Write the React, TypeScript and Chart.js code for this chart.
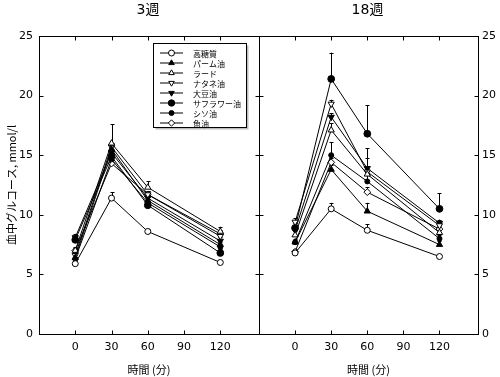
import React, { useEffect, useRef } from 'react';
import { Chart, registerables } from 'chart.js';
Chart.register(...registerables);

// ---- data ----
const sampleTimes = [0, 30, 60, 120];
const xTickValues = [0, 30, 60, 90, 120];
const yTickValues = [0, 5, 10, 15, 20, 25];
const seriesNames = ['高糖質', 'パーム油', 'ラード', 'ナタネ油', '大豆油', 'サフラワー油', 'シソ油', '魚油'];
const panelTitles = ['3週', '18週'];
const xAxisTitle = '時間 (分)';
const yAxisTitle = '血中グルコース, mmol/l';

// 3 weeks
const w3HighCarb = [5.9, 11.4, 8.6, 6.0];
const w3Palm = [6.4, 15.5, 11.2, 7.5];
const w3Lard = [7.0, 16.0, 12.3, 8.6];
const w3Rapeseed = [6.6, 15.7, 11.7, 8.2];
const w3Soybean = [8.1, 15.2, 11.4, 7.8];
const w3Safflower = [7.9, 14.9, 10.8, 6.8];
const w3Perilla = [6.3, 14.65, 11.0, 7.3];
const w3Fish = [7.0, 14.3, 11.7, 8.4];
const w3Values = [w3HighCarb, w3Palm, w3Lard, w3Rapeseed, w3Soybean, w3Safflower, w3Perilla, w3Fish];

const w3HighCarbErr = [0.2, 0.5, 0.2, 0.1];
const w3PalmErr = [0.2, 0.3, 0.3, 0.2];
const w3LardErr = [0.3, 1.6, 0.5, 0.4];
const w3RapeseedErr = [0.2, 0.3, 0.3, 0.3];
const w3SoybeanErr = [0.3, 0.3, 0.3, 0.3];
const w3SafflowerErr = [0.3, 0.3, 0.3, 0.3];
const w3PerillaErr = [0.2, 0.3, 0.3, 0.2];
const w3FishErr = [0.2, 0.3, 0.3, 0.3];
const w3Errors = [w3HighCarbErr, w3PalmErr, w3LardErr, w3RapeseedErr, w3SoybeanErr, w3SafflowerErr, w3PerillaErr, w3FishErr];

// 18 weeks
const w18HighCarb = [6.8, 10.5, 8.7, 6.5];
const w18Palm = [7.7, 13.8, 10.3, 7.5];
const w18Lard = [8.3, 17.1, 13.4, 8.5];
const w18Rapeseed = [9.4, 19.3, 13.6, 9.1];
const w18Soybean = [8.7, 18.2, 13.9, 9.3];
const w18Safflower = [8.9, 21.4, 16.8, 10.5];
const w18Perilla = [7.7, 15.0, 12.8, 8.0];
const w18Fish = [6.9, 14.4, 11.9, 8.8];
const w18Values = [w18HighCarb, w18Palm, w18Lard, w18Rapeseed, w18Soybean, w18Safflower, w18Perilla, w18Fish];

const w18HighCarbErr = [0.2, 0.5, 0.5, 0.2];
const w18PalmErr = [0.2, 0.4, 0.7, 0.3];
const w18LardErr = [0.3, 0.6, 1.4, 0.3];
const w18RapeseedErr = [0.3, 0.35, 0.5, 0.3];
const w18SoybeanErr = [0.3, 0.3, 1.7, 0.3];
const w18SafflowerErr = [0.4, 2.2, 2.4, 1.3];
const w18PerillaErr = [0.3, 1.1, 0.6, 0.3];
const w18FishErr = [0.2, 0.4, 0.4, 0.3];
const w18Errors = [w18HighCarbErr, w18PalmErr, w18LardErr, w18RapeseedErr, w18SoybeanErr, w18SafflowerErr, w18PerillaErr, w18FishErr];

// ---- styles ----
type MarkStyle = { shape: string; fill: string; r: number; rot: number };
const markStyles: MarkStyle[] = [
  { shape: 'circle', fill: '#fff', r: 3, rot: 0 },
  { shape: 'triangle', fill: '#000', r: 3.6, rot: 0 },
  { shape: 'triangle', fill: '#fff', r: 3.6, rot: 0 },
  { shape: 'triangle', fill: '#fff', r: 3.6, rot: 180 },
  { shape: 'triangle', fill: '#000', r: 3.6, rot: 180 },
  { shape: 'circle', fill: '#000', r: 3.4, rot: 0 },
  { shape: 'circle', fill: '#000', r: 2.5, rot: 0 },
  { shape: 'rectRot', fill: '#fff', r: 3.4, rot: 0 },
];

const TICK_FONT = { family: "'DejaVu Sans', 'Noto Sans CJK JP'", size: 11 };
const TITLE_FAMILY = "'DejaVu Sans', 'Noto Sans CJK JP'";

function drawMark(ctx: CanvasRenderingContext2D, st: MarkStyle, x: number, y: number) {
  ctx.save();
  ctx.beginPath();
  const r = st.r;
  if (st.shape === 'circle') {
    ctx.arc(x, y, r, 0, Math.PI * 2);
  } else if (st.shape === 'triangle') {
    let rad = (st.rot * Math.PI) / 180;
    ctx.moveTo(x + Math.sin(rad) * r, y - Math.cos(rad) * r);
    rad += (2 * Math.PI) / 3;
    ctx.lineTo(x + Math.sin(rad) * r, y - Math.cos(rad) * r);
    rad += (2 * Math.PI) / 3;
    ctx.lineTo(x + Math.sin(rad) * r, y - Math.cos(rad) * r);
    ctx.closePath();
  } else {
    ctx.moveTo(x, y - r);
    ctx.lineTo(x + r, y);
    ctx.lineTo(x, y + r);
    ctx.lineTo(x - r, y);
    ctx.closePath();
  }
  ctx.fillStyle = st.fill;
  ctx.fill();
  ctx.strokeStyle = '#000';
  ctx.lineWidth = 1;
  ctx.stroke();
  ctx.restore();
}

const framePlugin = {
  id: 'frame',
  beforeDatasetsDraw(chart: any) {
    const ctx = chart.ctx;
    const ys = chart.scales.y;
    ctx.save();
    ctx.strokeStyle = '#000';
    ctx.lineWidth = 1;
    chart.data.datasets.forEach((ds: any, i: number) => {
      const meta = chart.getDatasetMeta(i);
      (ds.errors || []).forEach((e: number, j: number) => {
        if (!e) return;
        const pt = meta.data[j];
        const v = ds.data[j].y;
        const yt = ys.getPixelForValue(v + e);
        const x = Math.round(pt.x) + 0.5;
        ctx.beginPath();
        ctx.moveTo(x, pt.y);
        ctx.lineTo(x, yt);
        ctx.moveTo(x - 2, Math.round(yt) + 0.5);
        ctx.lineTo(x + 2, Math.round(yt) + 0.5);
        ctx.stroke();
      });
    });
    ctx.restore();
  },
  afterDraw(chart: any) {
    const ctx = chart.ctx;
    const a = chart.chartArea;
    const xs = chart.scales.x;
    const ys = chart.scales.y;
    const L = Math.round(a.left) + 0.5;
    const R = Math.round(a.right) + 0.5;
    const T = Math.round(a.top) + 0.5;
    const B = Math.round(a.bottom) + 0.5;
    ctx.save();
    ctx.strokeStyle = '#000';
    ctx.lineWidth = 1;
    ctx.strokeRect(L, T, R - L, B - T);
    const tl = 4;
    ctx.beginPath();
    xTickValues.forEach((v) => {
      const x = Math.round(xs.getPixelForValue(v)) + 0.5;
      ctx.moveTo(x, B);
      ctx.lineTo(x, B - tl);
      ctx.moveTo(x, T);
      ctx.lineTo(x, T + tl);
    });
    yTickValues.forEach((v) => {
      const y = Math.round(ys.getPixelForValue(v)) + 0.5;
      ctx.moveTo(L, y);
      ctx.lineTo(L + tl, y);
      ctx.moveTo(R, y);
      ctx.lineTo(R - tl, y);
    });
    ctx.stroke();

    // panel title
    const opts = chart.options.plugins.frame || {};
    ctx.fillStyle = '#000';
    ctx.font = `14px ${TITLE_FAMILY}`;
    ctx.textAlign = 'center';
    ctx.textBaseline = 'middle';
    ctx.fillText(opts.title || '', (a.left + a.right) / 2 - 1, 10);

    // legend
    if (opts.legend) {
      const bx = 153.5, by = 43.5, bw = 93, bh = 84;
      ctx.fillStyle = '#bbb';
      ctx.fillRect(bx + 2, by + 2, bw, bh);
      ctx.fillStyle = '#fff';
      ctx.fillRect(bx, by, bw, bh);
      ctx.strokeStyle = '#000';
      ctx.strokeRect(bx, by, bw, bh);
      ctx.font = `8px 'Noto Sans CJK JP'`;
      ctx.textAlign = 'left';
      seriesNames.forEach((name, i) => {
        const y = 52.5 + i * 10;
        ctx.beginPath();
        ctx.moveTo(160, y + 0.5);
        ctx.lineTo(183, y + 0.5);
        ctx.strokeStyle = '#000';
        ctx.stroke();
        drawMark(ctx, { ...markStyles[i], r: Math.min(markStyles[i].r, 3.2) }, 171.5, y + 0.5);
        ctx.fillStyle = '#000';
        ctx.fillText(name, 193, y + 1);
      });
    }
    ctx.restore();
  },
};

function makeDatasets(values: number[][], errors: number[][]) {
  return values.map((vals, i) => ({
    label: seriesNames[i],
    data: vals.map((v, j) => ({ x: sampleTimes[j], y: v })),
    errors: errors[i],
    borderColor: '#000',
    borderWidth: 1,
    backgroundColor: markStyles[i].fill,
    pointBackgroundColor: markStyles[i].fill,
    pointBorderColor: '#000',
    pointBorderWidth: 1,
    pointStyle: markStyles[i].shape,
    pointRotation: markStyles[i].rot,
    pointRadius: markStyles[i].r,
    tension: 0,
    fill: false,
  }));
}

function makeOptions(left: boolean, title: string): any {
  return {
    animation: false,
    responsive: false,
    maintainAspectRatio: false,
    events: [],
    layout: { autoPadding: false, padding: { top: 36, right: left ? 1 : 0, left: 0, bottom: 0 } },
    plugins: {
      legend: { display: false },
      tooltip: { enabled: false },
      frame: { title, legend: left },
    },
    scales: {
      x: {
        type: 'linear',
        min: -30,
        max: 152,
        position: 'bottom',
        afterBuildTicks: (s: any) => {
          s.ticks = xTickValues.map((v) => ({ value: v }));
        },
        afterFit: (s: any) => {
          s.height = 43;
        },
        grid: { display: false, drawTicks: false },
        border: { display: false },
        ticks: { font: TICK_FONT, color: '#000', padding: 7, maxRotation: 0, autoSkip: false },
        title: {
          display: true,
          text: xAxisTitle,
          color: '#000',
          font: { family: "'Noto Sans CJK JP', 'DejaVu Sans'", size: 11 },
          padding: { top: 0, bottom: 1 },
        },
      },
      y: {
        type: 'linear',
        min: 0,
        max: 25,
        position: left ? 'left' : 'right',
        afterBuildTicks: (s: any) => {
          s.ticks = yTickValues.map((v) => ({ value: v }));
        },
        afterFit: (s: any) => {
          s.width = left ? 39 : 22;
        },
        grid: { display: false, drawTicks: false },
        border: { display: false },
        ticks: { font: TICK_FONT, color: '#000', padding: left ? 6 : 4 },
        title: {
          display: left,
          text: yAxisTitle,
          color: '#000',
          font: { family: "'Noto Sans CJK JP', 'DejaVu Sans'", size: 11 },
          padding: { top: 5, bottom: 0 },
        },
      },
    },
  };
}

export default function App() {
  const leftRef = useRef<HTMLCanvasElement>(null);
  const rightRef = useRef<HTMLCanvasElement>(null);
  useEffect(() => {
    const c1 = new Chart(leftRef.current as HTMLCanvasElement, {
      type: 'line',
      data: { datasets: makeDatasets(w3Values, w3Errors) as any },
      options: makeOptions(true, panelTitles[0]),
      plugins: [framePlugin],
    });
    const c2 = new Chart(rightRef.current as HTMLCanvasElement, {
      type: 'line',
      data: { datasets: makeDatasets(w18Values, w18Errors) as any },
      options: makeOptions(false, panelTitles[1]),
      plugins: [framePlugin],
    });
    return () => {
      c1.destroy();
      c2.destroy();
    };
  }, []);
  return (
    <div style={{ position: 'absolute', left: 0, top: 0, width: 500, height: 377, background: '#fff' }}>
      <canvas
        ref={leftRef}
        width={260}
        height={377}
        style={{ position: 'absolute', left: 0, top: 0, width: 260, height: 377 }}
      />
      <canvas
        ref={rightRef}
        width={241}
        height={377}
        style={{ position: 'absolute', left: 259, top: 0, width: 241, height: 377 }}
      />
    </div>
  );
}
